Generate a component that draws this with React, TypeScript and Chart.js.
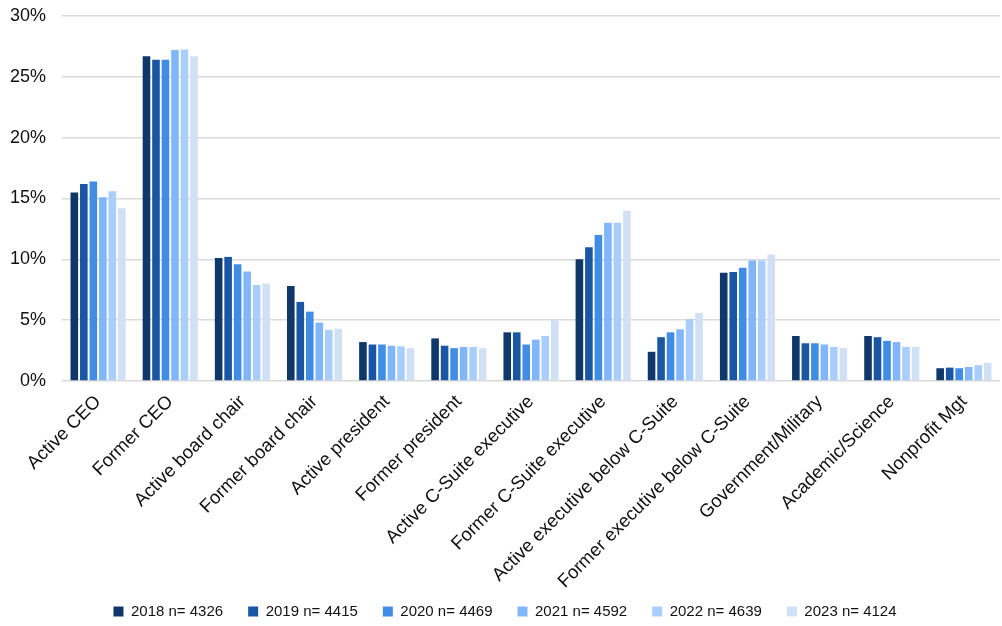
import React, { useEffect, useRef } from "react";
import { Chart, registerables } from "chart.js";

Chart.register(...registerables);

const categories = [
  "Active CEO",
  "Former CEO",
  "Active board chair",
  "Former board chair",
  "Active president",
  "Former president",
  "Active C-Suite executive",
  "Former C-Suite executive",
  "Active executive below C-Suite",
  "Former executive below C-Suite",
  "Government/Military",
  "Academic/Science",
  "Nonprofit Mgt",
];

const seriesLabels = [
  "2018 n= 4326",
  "2019 n= 4415",
  "2020 n= 4469",
  "2021 n= 4592",
  "2022 n= 4639",
  "2023 n= 4124",
];

const s2018 = [15.5, 26.7, 10.1, 7.8, 3.2, 3.5, 4.0, 10.0, 2.4, 8.9, 3.7, 3.7, 1.05];
const s2019 = [16.2, 26.4, 10.2, 6.5, 3.0, 2.9, 4.0, 11.0, 3.6, 8.95, 3.1, 3.6, 1.1];
const s2020 = [16.4, 26.4, 9.6, 5.7, 3.0, 2.7, 3.0, 12.0, 4.0, 9.3, 3.1, 3.3, 1.05];
const s2021 = [15.1, 27.2, 9.0, 4.8, 2.9, 2.8, 3.4, 13.0, 4.25, 9.9, 3.0, 3.2, 1.15];
const s2022 = [15.6, 27.25, 7.9, 4.2, 2.85, 2.8, 3.7, 13.0, 5.1, 9.9, 2.8, 2.8, 1.3];
const s2023 = [14.2, 26.7, 8.0, 4.3, 2.7, 2.7, 5.0, 14.0, 5.6, 10.4, 2.7, 2.8, 1.5];

const yTicks = [0, 5, 10, 15, 20, 25, 30];

const colors = ["#0f3769", "#1a56a4", "#418ce5", "#82b6fb", "#aacefc", "#d0e0f5"];

export default function App() {
  const ref = useRef<HTMLCanvasElement | null>(null);
  useEffect(() => {
    if (!ref.current) return;
    const allSeries = [s2018, s2019, s2020, s2021, s2022, s2023];
    const font = "'Liberation Sans', Arial, sans-serif";
    const chart = new Chart(ref.current, {
      type: "bar",
      data: {
        labels: categories,
        datasets: allSeries.map((d, i) => ({
          label: seriesLabels[i],
          data: d,
          backgroundColor: colors[i],
          borderWidth: 0,
          barPercentage: 0.8,
          categoryPercentage: 0.79,
        })),
      },
      options: {
        animation: false,
        responsive: false,
        maintainAspectRatio: false,
        layout: { padding: { top: 16, left: 10, right: 2, bottom: -3 } },
        plugins: {
          tooltip: { enabled: false },
          legend: {
            position: "bottom",
            labels: {
              boxWidth: 10,
              boxHeight: 10,
              padding: 25,
              color: "#111",
              font: { family: font, size: 15 },
            },
          },
        },
        scales: {
          x: {
            grid: { display: false },
            border: { display: false },
            afterFit: (axis: any) => {
              axis.paddingLeft = 0;
              axis.paddingRight = 0;
              axis.height = 198;
              axis._computeLabelArea = () => undefined;
            },
            ticks: {
              autoSkip: false,
              maxRotation: 45,
              minRotation: 45,
              color: "#111",
              padding: 2,
              font: { family: font, size: 18.5 },
            },
          },
          y: {
            min: 0,
            max: 30,
            afterBuildTicks: (axis: any) => {
              axis.ticks = yTicks.map((v) => ({ value: v }));
            },
            afterFit: (axis: any) => {
              axis.paddingTop = 0;
              axis.paddingBottom = 0;
              axis.width = 52;
            },
            grid: { color: "#d9d9d9", lineWidth: 1.5, drawTicks: false },
            border: { display: false },
            ticks: {
              color: "#111",
              padding: 16,
              font: { family: font, size: 18 },
              callback: (v: any) => v + "%",
            },
          },
        },
      },
    });
    return () => chart.destroy();
  }, []);
  return (
    <div style={{ position: "fixed", left: 0, top: 0, width: 1002, height: 626, background: "#fff" }}>
      <canvas ref={ref} width={1002} height={626} style={{ width: 1002, height: 626 }} />
    </div>
  );
}
